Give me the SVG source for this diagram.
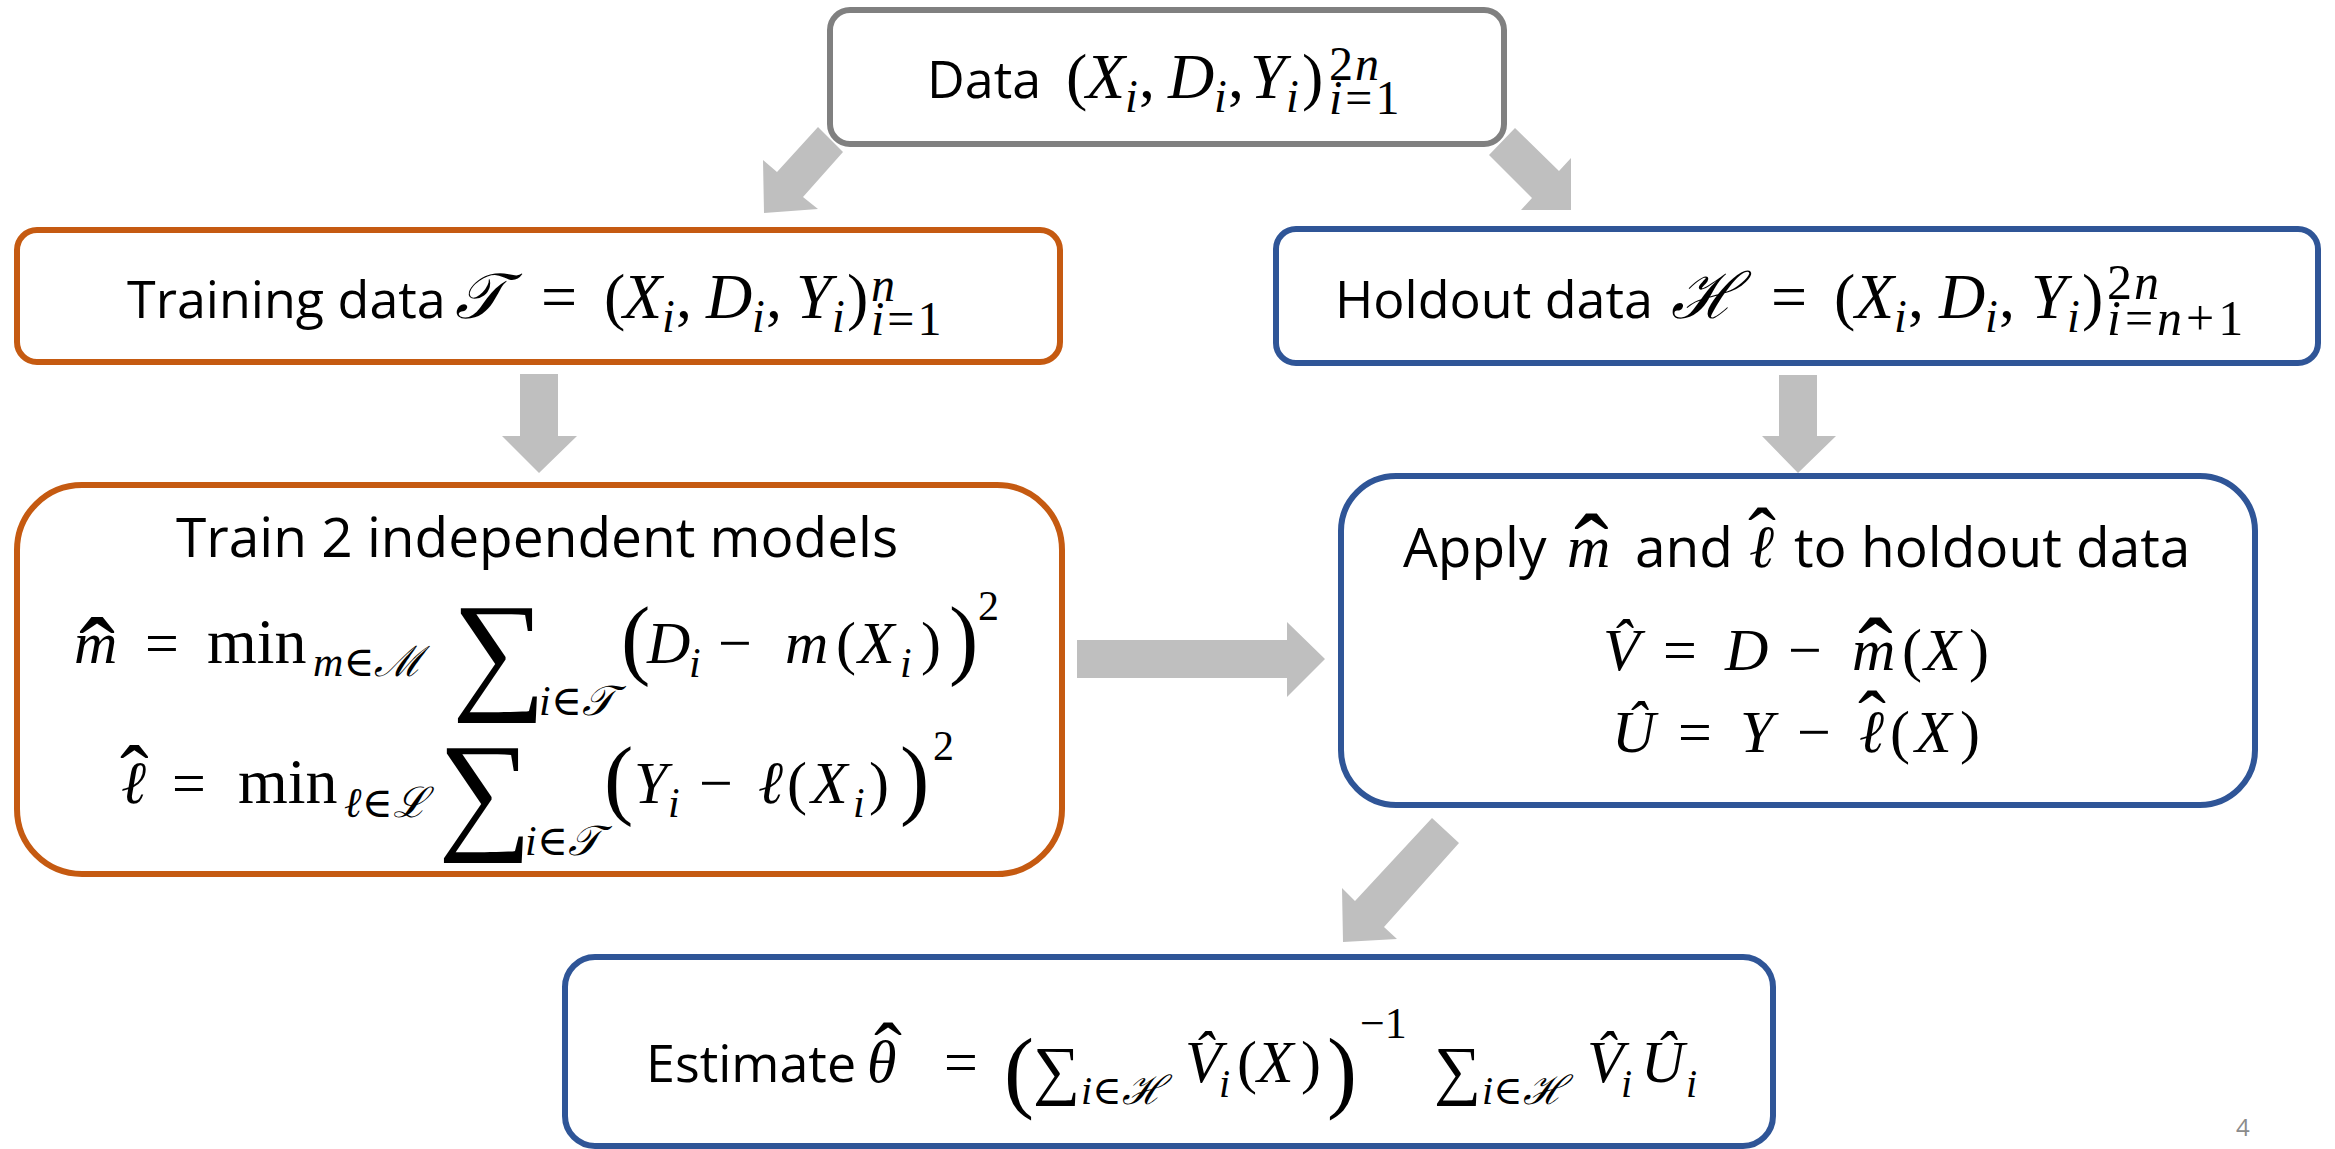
<svg xmlns="http://www.w3.org/2000/svg" width="2335" height="1149" viewBox="0 0 2335 1149">
  <style>
    .box { fill: #ffffff; stroke-width: 6; }
    .gray { stroke: #808080; }
    .orange { stroke: #C55A11; }
    .blue { stroke: #2F5597; }
    .arrow { fill: #BFBFBF; stroke: none; }
    .w { font-family: 'Open Sans', 'Liberation Sans', sans-serif; fill: #000; }
    .mi { font-family: 'Liberation Serif', 'DejaVu Serif', serif; font-style: italic; fill: #000; }
    .mu { font-family: 'Liberation Serif', 'DejaVu Serif', serif; font-style: normal; fill: #000; }
    .pg { font-family: 'Open Sans', 'Liberation Sans', sans-serif; fill: #8B8B8B; font-size: 24px; }
  </style>

  <!-- connectors: block arrows, drawn under the boxes -->
  <g id="connectors">
    <polygon class="arrow" points="818,127 843,152 803,197 818,209 764,213 763,160 777,172"/>
    <polygon class="arrow" points="1515,128 1489,155 1532,198 1521,210 1571,210 1571,158 1559,171"/>
    <polygon class="arrow" points="520,374 558,374 558,436 577,436 539,473 502,436 520,436"/>
    <polygon class="arrow" points="1779,375 1817,375 1817,436 1836,436 1798,473 1762,436 1779,436"/>
    <polygon class="arrow" points="1077,640 1287,640 1287,622 1325,659 1287,697 1287,678 1077,678"/>
    <polygon class="arrow" points="1432,818 1459,843 1384,927 1397,939 1343,942 1342,888 1355,901"/>
  </g>

  <!-- full data set -->
  <g id="data">
    <rect class="box gray" x="830" y="10" width="674" height="134" rx="20"/>
    <text font-size="64">
      <tspan class="w" x="927" y="98" font-size="52">Data</tspan>
      <tspan class="mu" x="1066" y="98">(</tspan>
      <tspan class="mi" x="1086" y="98">X</tspan>
      <tspan class="mi" x="1125" y="112" font-size="46">i</tspan>
      <tspan class="mu" x="1139" y="98">,</tspan>
      <tspan class="mi" x="1168" y="98">D</tspan>
      <tspan class="mi" x="1214" y="112" font-size="46">i</tspan>
      <tspan class="mu" x="1228" y="98">,</tspan>
      <tspan class="mi" x="1250" y="98">Y</tspan>
      <tspan class="mi" x="1286" y="112" font-size="46">i</tspan>
      <tspan class="mu" x="1302" y="98">)</tspan>
      <tspan class="mu" x="1329" y="80" font-size="48" letter-spacing="2">2</tspan><tspan class="mi" font-size="48">n</tspan>
      <tspan class="mi" x="1329" y="114" font-size="48" letter-spacing="3">i</tspan><tspan class="mu" font-size="48" letter-spacing="3">=1</tspan>
    </text>
  </g>

  <!-- training split -->
  <g id="training">
    <rect class="box orange" x="17" y="230" width="1043" height="132" rx="20"/>
    <text font-size="64">
      <tspan class="w" x="127" y="318" font-size="52">Training data</tspan>
      <tspan class="mi" x="455" y="318">𝒯</tspan>
      <tspan class="mu" x="541" y="318">=</tspan>
      <tspan class="mu" x="604" y="318">(</tspan>
      <tspan class="mi" x="623" y="318">X</tspan>
      <tspan class="mi" x="662" y="332" font-size="46">i</tspan>
      <tspan class="mu" x="676" y="318">,</tspan>
      <tspan class="mi" x="706" y="318">D</tspan>
      <tspan class="mi" x="752" y="332" font-size="46">i</tspan>
      <tspan class="mu" x="766" y="318">,</tspan>
      <tspan class="mi" x="796" y="318">Y</tspan>
      <tspan class="mi" x="832" y="332" font-size="46">i</tspan>
      <tspan class="mu" x="847" y="318">)</tspan>
      <tspan class="mi" x="871" y="301" font-size="48">n</tspan>
      <tspan class="mi" x="871" y="335" font-size="48" letter-spacing="3">i</tspan><tspan class="mu" font-size="48" letter-spacing="3">=1</tspan>
    </text>
  </g>

  <!-- holdout split -->
  <g id="holdout">
    <rect class="box blue" x="1276" y="229" width="1042" height="134" rx="20"/>
    <text font-size="64">
      <tspan class="w" x="1335" y="318" font-size="52">Holdout data</tspan>
      <tspan class="mi" x="1671" y="318">ℋ</tspan>
      <tspan class="mu" x="1771" y="318">=</tspan>
      <tspan class="mu" x="1834" y="318">(</tspan>
      <tspan class="mi" x="1855" y="318">X</tspan>
      <tspan class="mi" x="1894" y="332" font-size="46">i</tspan>
      <tspan class="mu" x="1908" y="318">,</tspan>
      <tspan class="mi" x="1939" y="318">D</tspan>
      <tspan class="mi" x="1985" y="332" font-size="46">i</tspan>
      <tspan class="mu" x="1999" y="318">,</tspan>
      <tspan class="mi" x="2031" y="318">Y</tspan>
      <tspan class="mi" x="2067" y="332" font-size="46">i</tspan>
      <tspan class="mu" x="2082" y="318">)</tspan>
      <tspan class="mu" x="2107" y="299" font-size="50" letter-spacing="2">2</tspan><tspan class="mi" font-size="50">n</tspan>
      <tspan class="mi" x="2107" y="335" font-size="50" letter-spacing="4">i</tspan><tspan class="mu" font-size="50" letter-spacing="4">=</tspan><tspan class="mi" font-size="50" letter-spacing="4">n</tspan><tspan class="mu" font-size="50" letter-spacing="4">+1</tspan>
    </text>
  </g>

  <!-- model fitting -->
  <g id="train">
    <rect class="box orange" x="17" y="485" width="1045" height="389" rx="65"/>
    <text class="w" x="176" y="557" font-size="55">Train 2 independent models</text>
    <text font-size="60">
      <tspan class="mi" x="74" y="663">m</tspan>
      <tspan class="mu" x="79" y="692" font-size="108">ˆ</tspan>
      <tspan class="mu" x="145" y="663">=</tspan>
      <tspan class="mu" x="207" y="663" font-size="64">min</tspan>
      <tspan class="mi" x="313" y="676" font-size="42">m</tspan><tspan class="mu" font-size="42">∈</tspan><tspan class="mi" font-size="42">ℳ</tspan>
      <tspan class="mu" x="452" y="695" font-size="132">∑</tspan>
      <tspan class="mi" x="539" y="715" font-size="42">i</tspan><tspan class="mu" font-size="42">∈</tspan><tspan class="mi" font-size="42">𝒯</tspan>
      <tspan class="mu" x="621" y="668" font-size="88">(</tspan>
      <tspan class="mi" x="647" y="663">D</tspan>
      <tspan class="mi" x="689" y="677" font-size="42">i</tspan>
      <tspan class="mu" x="718" y="663">−</tspan>
      <tspan class="mi" x="785" y="663">m</tspan>
      <tspan class="mu" x="836" y="663">(</tspan>
      <tspan class="mi" x="858" y="663">X</tspan>
      <tspan class="mi" x="900" y="677" font-size="42">i</tspan>
      <tspan class="mu" x="921" y="663">)</tspan>
      <tspan class="mu" x="949" y="668" font-size="88">)</tspan>
      <tspan class="mu" x="978" y="620" font-size="42">2</tspan>
    </text>
    <text font-size="60">
      <tspan class="mi" x="121" y="803">ℓ</tspan>
      <tspan class="mu" x="120" y="806" font-size="86">ˆ</tspan>
      <tspan class="mu" x="172" y="803">=</tspan>
      <tspan class="mu" x="238" y="803" font-size="64">min</tspan>
      <tspan class="mi" x="344" y="817" font-size="42">ℓ</tspan><tspan class="mu" font-size="42">∈</tspan><tspan class="mi" font-size="42">ℒ</tspan>
      <tspan class="mu" x="438" y="835" font-size="132">∑</tspan>
      <tspan class="mi" x="525" y="855" font-size="42">i</tspan><tspan class="mu" font-size="42">∈</tspan><tspan class="mi" font-size="42">𝒯</tspan>
      <tspan class="mu" x="604" y="808" font-size="88">(</tspan>
      <tspan class="mi" x="634" y="803">Y</tspan>
      <tspan class="mi" x="668" y="817" font-size="42">i</tspan>
      <tspan class="mu" x="699" y="803">−</tspan>
      <tspan class="mi" x="758" y="803">ℓ</tspan>
      <tspan class="mu" x="787" y="803">(</tspan>
      <tspan class="mi" x="811" y="803">X</tspan>
      <tspan class="mi" x="853" y="817" font-size="42">i</tspan>
      <tspan class="mu" x="869" y="803">)</tspan>
      <tspan class="mu" x="900" y="808" font-size="88">)</tspan>
      <tspan class="mu" x="933" y="760" font-size="42">2</tspan>
    </text>
  </g>

  <!-- residuals on the holdout split -->
  <g id="apply">
    <rect class="box blue" x="1341" y="476" width="914" height="329" rx="55"/>
    <text font-size="60">
      <tspan class="w" x="1403" y="567" font-size="55">Apply</tspan>
      <tspan class="mi" x="1567" y="567">m</tspan>
      <tspan class="mu" x="1574" y="586" font-size="104">ˆ</tspan>
      <tspan class="w" x="1635" y="567" font-size="55">and</tspan>
      <tspan class="mi" x="1749" y="567">ℓ</tspan>
      <tspan class="mu" x="1748" y="566" font-size="84">ˆ</tspan>
      <tspan class="w" x="1794" y="567" font-size="55">to holdout data</tspan>
    </text>
    <text font-size="60">
      <tspan class="mi" x="1603" y="670">V̂</tspan>
      <tspan class="mu" x="1663" y="670">=</tspan>
      <tspan class="mi" x="1725" y="670">D</tspan>
      <tspan class="mu" x="1788" y="670">−</tspan>
      <tspan class="mi" x="1852" y="670">m</tspan>
      <tspan class="mu" x="1858" y="690" font-size="104">ˆ</tspan>
      <tspan class="mu" x="1902" y="670">(</tspan>
      <tspan class="mi" x="1924" y="670">X</tspan>
      <tspan class="mu" x="1969" y="670">)</tspan>
    </text>
    <text font-size="60">
      <tspan class="mi" x="1612" y="752">Û</tspan>
      <tspan class="mu" x="1678" y="752">=</tspan>
      <tspan class="mi" x="1740" y="752">Y</tspan>
      <tspan class="mu" x="1797" y="752">−</tspan>
      <tspan class="mi" x="1859" y="752">ℓ</tspan>
      <tspan class="mu" x="1858" y="749" font-size="84">ˆ</tspan>
      <tspan class="mu" x="1890" y="752">(</tspan>
      <tspan class="mi" x="1915" y="752">X</tspan>
      <tspan class="mu" x="1960" y="752">)</tspan>
    </text>
  </g>

  <!-- final estimator -->
  <g id="estimate">
    <rect class="box blue" x="565" y="957" width="1208" height="189" rx="30"/>
    <text font-size="60">
      <tspan class="w" x="646" y="1082" font-size="52">Estimate</tspan>
      <tspan class="mi" x="867" y="1082">θ</tspan>
      <tspan class="mu" x="874" y="1081" font-size="84">ˆ</tspan>
      <tspan class="mu" x="944" y="1082">=</tspan>
      <tspan class="mu" x="1004" y="1101" font-size="90">(</tspan>
      <tspan class="mu" x="1033" y="1092" font-size="66">∑</tspan>
      <tspan class="mi" x="1081" y="1104" font-size="40">i</tspan><tspan class="mu" font-size="40">∈</tspan><tspan class="mi" font-size="40">ℋ</tspan>
      <tspan class="mi" x="1185" y="1082">V̂</tspan>
      <tspan class="mi" x="1219" y="1097" font-size="40">i</tspan>
      <tspan class="mu" x="1237" y="1082">(</tspan>
      <tspan class="mi" x="1257" y="1082">X</tspan>
      <tspan class="mu" x="1301" y="1082">)</tspan>
      <tspan class="mu" x="1327" y="1101" font-size="90">)</tspan>
      <tspan class="mu" x="1360" y="1038" font-size="44">−1</tspan>
      <tspan class="mu" x="1434" y="1092" font-size="66">∑</tspan>
      <tspan class="mi" x="1482" y="1104" font-size="40">i</tspan><tspan class="mu" font-size="40">∈</tspan><tspan class="mi" font-size="40">ℋ</tspan>
      <tspan class="mi" x="1587" y="1082">V̂</tspan>
      <tspan class="mi" x="1621" y="1097" font-size="40">i</tspan>
      <tspan class="mi" x="1641" y="1082">Û</tspan>
      <tspan class="mi" x="1686" y="1097" font-size="40">i</tspan>
    </text>
  </g>

  <text class="pg" x="2236" y="1136">4</text>
</svg>
